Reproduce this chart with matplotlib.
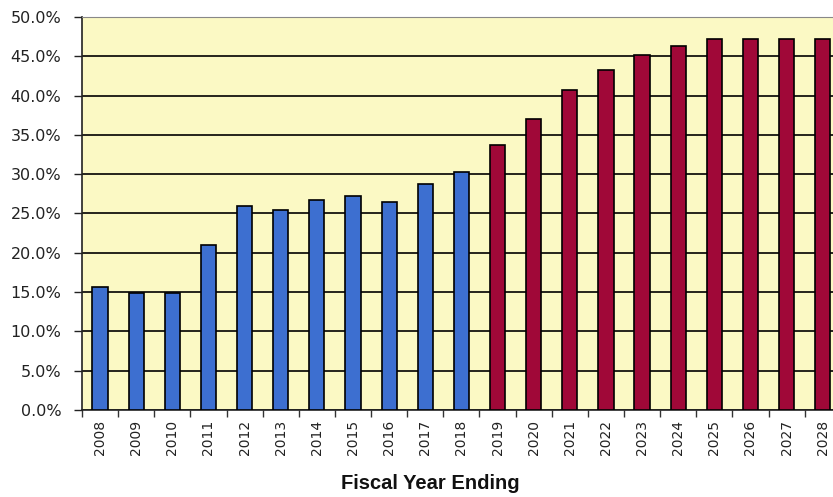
import numpy as np
import matplotlib.pyplot as plt
from matplotlib.ticker import FuncFormatter, FixedLocator

# fiscal years and rate per year (actuals through 2018, projected after)
years = ['2008', '2009', '2010', '2011', '2012', '2013', '2014', '2015', '2016', '2017',
         '2018', '2019', '2020', '2021', '2022', '2023', '2024', '2025', '2026', '2027', '2028']
actual = [15.6, 14.9, 14.9, 21.0, 25.9, 25.4, 26.7, 27.2, 26.4, 28.7, 30.3]
projected = [33.7, 37.0, 40.7, 43.3, 45.1, 46.3, 47.2, 47.2, 47.2, 47.2]

fig = plt.figure(figsize=(8.33, 4.97), dpi=100)
ax = fig.add_axes([0.0984, 0.175, 0.911, 0.791])
ax.set_facecolor('#fbf9c4')

x = np.arange(len(years))
n_act = len(actual)
ax.bar(x[:n_act], actual, width=0.42, color='#3d6fd0', edgecolor='black', linewidth=1.2, zorder=3)
ax.bar(x[n_act:], projected, width=0.42, color='#a00838', edgecolor='black', linewidth=1.2, zorder=3)

ax.set_xlim(-0.5, len(years) - 0.5)
ax.set_ylim(0, 50)
ax.set_yticks(np.arange(0, 50.1, 5))
ax.yaxis.set_major_formatter(FuncFormatter(lambda v, p: f'{v:.1f}%'))
ax.grid(axis='y', color='black', linewidth=1.2, zorder=1)

# year labels centred under bars, tick marks between bars
ax.set_xticks(x)
ax.set_xticklabels(years, rotation=90, fontsize=10, family='DejaVu Sans')
ax.tick_params(axis='x', length=0, pad=7, colors='#222222')
ax.xaxis.set_minor_locator(FixedLocator(np.arange(-0.5, len(years), 1)))
ax.tick_params(axis='x', which='minor', length=5, width=1, color='#333333')
ax.tick_params(axis='y', length=6, width=1, labelsize=11.5, pad=9, colors='#222222')

for s in ['left', 'bottom']:
    ax.spines[s].set_color('#222222')
    ax.spines[s].set_linewidth(1.2)
ax.spines['top'].set_color('#888888')
ax.spines['right'].set_visible(False)

fig.text(0.516, 0.028, 'Fiscal Year Ending', fontsize=14.5, fontweight='bold',
         family='Liberation Sans', ha='center', va='center', color='#111111')

fig.savefig('out.png', dpi=100)
